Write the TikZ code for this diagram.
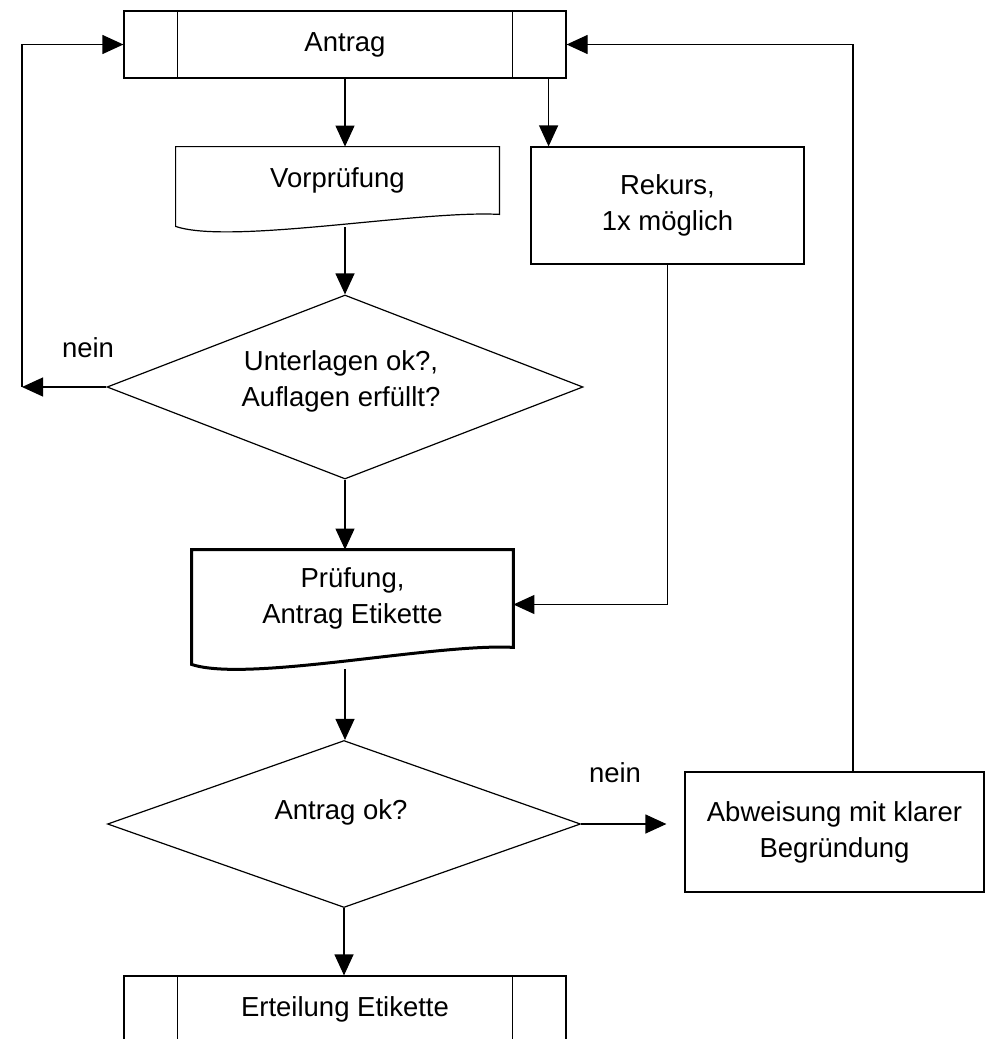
\documentclass[tikz,border=0pt]{standalone}
\usepackage{fontspec}
\setmainfont{Liberation Sans}
\usetikzlibrary{arrows.meta,shapes.geometric}
\begin{document}
\begin{tikzpicture}[x=0.5pt,y=-0.5pt,
  every node/.style={font=\fontsize{13.75pt}{18pt}\selectfont, inner sep=0pt},
  box/.style={draw, line width=0.6pt, rectangle},
  plain/.style={rectangle},
  dec/.style={draw, line width=0.6pt, diamond, inner sep=0pt},
  conn/.style={line width=0.6pt},
  arr/.style={conn, -{Triangle[length=10.5pt,width=9.5pt]}}
]
\useasboundingbox (0,0) rectangle (985,1039);
\clip (0,0) rectangle (985,1039);

% Antrag (predefined process)
\node[box, minimum width=221pt, minimum height=33.5pt] (antrag) at (345,44.5) {Antrag};
\draw[conn] ([xshift=27pt]antrag.north west) -- ([xshift=27pt]antrag.south west);
\draw[conn] ([xshift=-27pt]antrag.north east) -- ([xshift=-27pt]antrag.south east);

% Vorpruefung (document)
\node[plain, minimum width=161.5pt, minimum height=33.5pt] (vor) at (337.5,180.5) {Vorprüfung};
\draw[conn] (vor.north west) -- (vor.north east) -- (vor.south east)
  .. controls (420,210) and (230,245) .. ([yshift=-6pt]vor.south west) -- cycle;

% Rekurs
\node[box, align=center, minimum width=136.5pt, minimum height=58.5pt] (rekurs) at (667.5,205.5) {Rekurs,\\1x möglich};

% Decision 1
\node[dec, minimum width=238pt, minimum height=92pt] (d1) at (345,387) {};
\node[align=center] (d1t) at (341,381) {Unterlagen ok?,\\Auflagen erfüllt?};
\node (nein1) at (88,348) {nein};

% Pruefung (document, thick)
\node[plain, align=center, minimum width=160.5pt, minimum height=48.5pt] (pruef) at (352.5,598.5) {Prüfung,\\Antrag Etikette};
\draw[line width=1.5pt] (pruef.north west) -- (pruef.north east) -- (pruef.south east)
  .. controls (435,643) and (247,683) .. ([yshift=-8.5pt]pruef.south west) -- cycle;

% Decision 2
\node[dec, minimum width=236.5pt, minimum height=83.5pt] (d2) at (344,824) {};
\node (d2t) at (341,812) {Antrag ok?};
\node (nein2) at (615,773) {nein};

% Abweisung
\node[box, align=center, minimum width=149.5pt, minimum height=60pt] (abw) at (834.5,832) {Abweisung mit klarer\\Begründung};

% Erteilung (predefined process, cut at bottom)
\node[box, minimum width=221pt, minimum height=33.5pt] (ert) at (345,1009.5) {Erteilung Etikette};
\draw[conn] ([xshift=27pt]ert.north west) -- ([xshift=27pt]ert.south west);
\draw[conn] ([xshift=-27pt]ert.north east) -- ([xshift=-27pt]ert.south east);

% Connectors
\draw[arr] (antrag.south) -- (antrag.south |- vor.north);
\draw[arr] ([xshift=-9pt]antrag.south east) -- ([xshift=-9pt]antrag.south east |- rekurs.north);
\coordinate (vorout) at (345,227);
\draw[arr] (vorout) -- (d1.north);
\coordinate (lb) at (22,387);
\draw[arr] (d1.west) -- (lb);
\draw[arr] (lb) |- (antrag.west);
\draw[arr] (d1.south) -- (d1.south |- pruef.north);
\draw[arr] (rekurs.south) |- ([yshift=-3pt]pruef.east);
\coordinate (pout) at (345,669);
\draw[arr] (pout) -- (pout |- d2.north);
\draw[arr] (d2.south) -- (d2.south |- ert.north);
\draw[arr, shorten >=9pt] (d2.east) -- (d2.east -| abw.west);
\draw[arr] ([xshift=9.25pt]abw.north) |- (antrag.east);
\end{tikzpicture}
\end{document}
